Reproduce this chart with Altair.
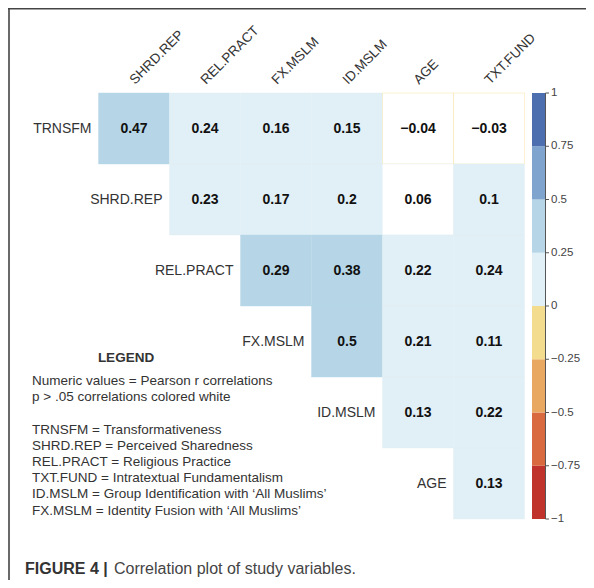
import altair as alt
import pandas as pd

# ---------------- data ----------------
row_vars = ["TRNSFM", "SHRD.REP", "REL.PRACT", "FX.MSLM", "ID.MSLM", "AGE"]
col_vars = ["SHRD.REP", "REL.PRACT", "FX.MSLM", "ID.MSLM", "AGE", "TXT.FUND"]
r_rows = [
    [0.47, 0.24, 0.16, 0.15, -0.04, -0.03],
    [0.23, 0.17, 0.20, 0.06, 0.10],
    [0.29, 0.38, 0.22, 0.24],
    [0.50, 0.21, 0.11],
    [0.13, 0.22],
    [0.13],
]
sig_rows = [
    [True, True, True, True, False, False],
    [True, True, True, False, True],
    [True, True, True, True],
    [True, True, True],
    [True, True],
    [True],
]
bin_edges = [-1, -0.75, -0.5, -0.25, 0, 0.25, 0.5, 0.75, 1]
bin_colors = ["#bf332c", "#d9693f", "#e8a862", "#f4dc8f",
              "#e1eff6", "#b6d6e7", "#7fa5cf", "#4d6fb0"]
colorbar_ticks = [-1, -0.75, -0.5, -0.25, 0, 0.25, 0.5, 0.75, 1]

legend_title = "LEGEND"
legend_lines = [
    "Numeric values = Pearson r correlations",
    "p > .05 correlations colored white",
    "",
    "TRNSFM = Transformativeness",
    "SHRD.REP = Perceived Sharedness",
    "REL.PRACT = Religious Practice",
    "TXT.FUND = Intratextual Fundamentalism",
    "ID.MSLM = Group Identification with \u2018All Muslims\u2019",
    "FX.MSLM = Identity Fusion with \u2018All Muslims\u2019",
]
caption_bold = "FIGURE 4 |"
caption_text = "Correlation plot of study variables."

FONT = "Liberation Sans, Arial, Helvetica, sans-serif"

# ---------------- tables ----------------
cells = []
for i, (vals, sigs) in enumerate(zip(r_rows, sig_rows)):
    for k, (v, s) in enumerate(zip(vals, sigs)):
        j = i + k
        cells.append({"row": row_vars[i], "col": col_vars[j], "i": i, "i2": i + 1,
                      "ic": i + 0.5, "j": j, "j2": j + 1, "jc": j + 0.5,
                      "r": v, "sig": s})
cells = pd.DataFrame(cells)

rowlab = pd.DataFrame({"name": row_vars, "i": list(range(len(row_vars)))})
rowlab["ic"] = rowlab["i"] + 0.5

collab = pd.DataFrame({"name": col_vars, "j": list(range(len(col_vars)))})
collab["jc"] = collab["j"] + 0.5
collab["top"] = 0

cbar = pd.DataFrame({"lo": bin_edges[:-1], "hi": bin_edges[1:], "color": bin_colors})
cticks = pd.DataFrame({"v": colorbar_ticks})
caxis = pd.DataFrame({"lo": [bin_edges[0]], "hi": [bin_edges[-1]]})

leg = pd.DataFrame({"line": list(range(len(legend_lines))), "text": legend_lines})
leg = leg[leg["text"] != ""]

# ---------------- scales ----------------
eps = 1e-9
thr = alt.Scale(type="threshold", domain=[e + eps for e in bin_edges[1:-1]], range=bin_colors)
xs = alt.Scale(domain=[0, 6], range=[90.5, 516.5], nice=False, zero=False)
ys = alt.Scale(domain=[0, 6], range=[85, 511], nice=False, zero=False)
cs = alt.Scale(domain=[-1, 1], range=[511, 85], nice=False, zero=False)
ls = alt.Scale(domain=[0, 8], range=[373, 502.6], nice=False, zero=False)

# ---------------- layers ----------------
cell_rects = alt.Chart(cells).mark_rect(strokeWidth=0.8, strokeOpacity=0.5).encode(
    x=alt.X("j:Q", scale=xs, axis=None),
    x2="j2:Q",
    y=alt.Y("i:Q", scale=ys, axis=None),
    y2="i2:Q",
    fill=alt.condition("datum.sig", alt.Fill("r:Q", scale=thr, legend=None), alt.value("white")),
    stroke=alt.Stroke("r:Q", scale=thr, legend=None),
)

cell_text = alt.Chart(cells).mark_text(
    font=FONT, fontSize=14, fontWeight="bold", color="#111", baseline="middle"
).encode(
    x=alt.X("jc:Q", scale=xs, axis=None),
    y=alt.Y("ic:Q", scale=ys, axis=None),
    text=alt.Text("r:Q", format=".2~f"),
)

row_text = alt.Chart(rowlab).mark_text(
    font=FONT, fontSize=14, color="#333", align="right", baseline="middle", dx=-7
).encode(
    x=alt.X("i:Q", scale=xs, axis=None),
    y=alt.Y("ic:Q", scale=ys, axis=None),
    text="name:N",
)

col_text = alt.Chart(collab).mark_text(
    font=FONT, fontSize=13.5, color="#333", align="left", baseline="alphabetic",
    angle=315, dx=6.4, dy=-5
).encode(
    x=alt.X("jc:Q", scale=xs, axis=None),
    y=alt.Y("top:Q", scale=ys, axis=None),
    text="name:N",
)

cbar_rects = alt.Chart(cbar).mark_rect().encode(
    x=alt.value(524), x2=alt.value(537),
    y=alt.Y("lo:Q", scale=cs, axis=None), y2="hi:Q",
    fill=alt.Fill("color:N", scale=None),
)

cbar_line = alt.Chart(caxis).mark_rule(color="#555", strokeWidth=1).encode(
    x=alt.value(537.5),
    y=alt.Y("lo:Q", scale=cs, axis=None), y2="hi:Q",
)

cbar_ticks = alt.Chart(cticks).mark_rule(color="#555", strokeWidth=1).encode(
    x=alt.value(537.5), x2=alt.value(541),
    y=alt.Y("v:Q", scale=cs, axis=None),
)

cbar_labels = alt.Chart(cticks).mark_text(
    font=FONT, fontSize=11.5, color="#444", align="left", baseline="middle"
).encode(
    x=alt.value(543),
    y=alt.Y("v:Q", scale=cs, axis=None),
    text=alt.Text("v:Q", format="~g"),
)

leg_title = alt.Chart(pd.DataFrame({"t": [legend_title]})).mark_text(
    font=FONT, fontSize=13.5, fontWeight="bold", color="#333", align="center", baseline="middle"
).encode(x=alt.value(118), y=alt.value(350), text="t:N")

leg_text = alt.Chart(leg).mark_text(
    font=FONT, fontSize=13.5, color="#333", align="left", baseline="middle"
).encode(
    x=alt.value(24),
    y=alt.Y("line:Q", scale=ls, axis=None),
    text="text:N",
)

cap1 = alt.Chart(pd.DataFrame({"t": [caption_bold]})).mark_text(
    font=FONT, fontSize=16, fontWeight="bold", color="#333", align="left", baseline="middle"
).encode(x=alt.value(17), y=alt.value(561), text="t:N")

cap2 = alt.Chart(pd.DataFrame({"t": [caption_text]})).mark_text(
    font=FONT, fontSize=16, color="#444", align="left", baseline="middle"
).encode(x=alt.value(106), y=alt.value(561), text="t:N")

frame_top = alt.Chart(pd.DataFrame({"a": [0]})).mark_rule(color="#444", strokeWidth=1.6).encode(
    x=alt.value(0), x2=alt.value(578), y=alt.value(0.8)
)
frame_left = alt.Chart(pd.DataFrame({"a": [0]})).mark_rule(color="#444", strokeWidth=1.6).encode(
    x=alt.value(1), y=alt.value(0), y2=alt.value(572)
)

chart = alt.layer(
    cell_rects, cell_text, row_text, col_text,
    cbar_rects, cbar_line, cbar_ticks, cbar_labels,
    leg_title, leg_text, cap1, cap2, frame_top, frame_left,
).resolve_scale(
    x="independent", y="independent", fill="independent", stroke="independent"
).properties(
    width=578, height=572, padding=0,
    autosize=alt.AutoSizeParams(type="none"),
).configure_view(stroke=None)

chart.save("out.html", embed_options={"renderer": "svg", "actions": False})
